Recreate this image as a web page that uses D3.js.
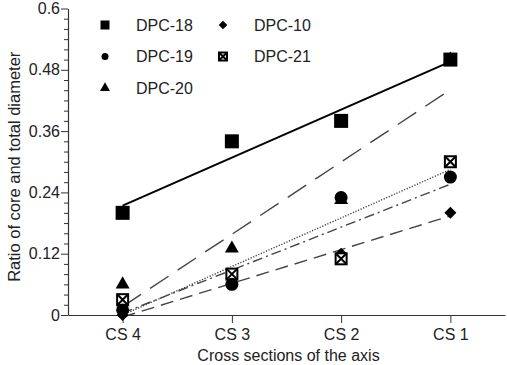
<!DOCTYPE html>
<html>
<head>
<meta charset="utf-8">
<script src="https://cdn.jsdelivr.net/npm/d3@7"></script>
<style>
  body { margin: 0; background: #fff; }
  svg { display: block; font-family: "Liberation Sans", Arial, sans-serif; }
</style>
</head>
<body>
<svg id="chart" width="507" height="365"></svg>
<script>
const categories = ['CS 4', 'CS 3', 'CS 2', 'CS 1'];
const yTicks = [0, 0.12, 0.24, 0.36, 0.48, 0.6];

const dpc18 = [0.2, 0.34, 0.38, 0.5];
const dpc19 = [0.01, 0.06, 0.23, 0.27];
const dpc20 = [0.06, 0.13, 0.225, 0.5];
const dpc10 = [0.0, 0.06, 0.12, 0.2];
const dpc21 = [0.03, 0.08, 0.11, 0.3];

const seriesNames = ['DPC-18', 'DPC-19', 'DPC-20', 'DPC-10', 'DPC-21'];

const width = 507;
const height = 365;
const margin = { top: 8.5, right: 2, bottom: 50, left: 68 };

const svg = d3.select('#chart');

const x = d3.scaleLinear()
  .domain([0.5, 4.5])
  .range([margin.left, width - margin.right]);
const y = d3.scaleLinear()
  .domain([0, 0.6])
  .range([height - margin.bottom, margin.top]);

const series = [
  { name: 'DPC-18', values: dpc18, shape: 'square', dash: null, width: 2, color: '#000' },
  { name: 'DPC-19', values: dpc19, shape: 'circle', dash: '1.2,1.6', width: 1.3, color: '#333' },
  { name: 'DPC-20', values: dpc20, shape: 'triangle', dash: '22,11', width: 1.4, color: '#444' },
  { name: 'DPC-10', values: dpc10, shape: 'diamond', dash: '13,7', width: 1.4, color: '#444' },
  { name: 'DPC-21', values: dpc21, shape: 'cross', dash: '10,4,2,4', width: 1.4, color: '#444' },
];

// least squares trend line over the four sections
function trend(values) {
  const xs = values.map((d, i) => i + 1);
  const mx = d3.mean(xs);
  const my = d3.mean(values);
  const slope = d3.sum(xs, (v, i) => (v - mx) * (values[i] - my)) / d3.sum(xs, v => (v - mx) ** 2);
  return [[1, my + slope * (1 - mx)], [4, my + slope * (4 - mx)]];
}

// axes
const yAxis = d3.axisLeft(y)
  .tickValues(yTicks)
  .tickFormat(d => (d === 0 ? '0' : d3.format('~g')(d)))
  .tickSize(7)
  .tickPadding(1);
const yMinor = d3.axisLeft(y)
  .tickValues(d3.range(0, 0.601, 0.02).filter(v => !yTicks.some(t => Math.abs(t - v) < 1e-6)))
  .tickFormat('')
  .tickSize(4)
  .tickSizeOuter(0);

svg.append('g')
  .attr('transform', `translate(${margin.left},0)`)
  .call(yMinor)
  .call(g => g.select('.domain').remove())
  .call(g => g.selectAll('line').attr('stroke', '#333'));

svg.append('g')
  .attr('transform', `translate(${margin.left},0)`)
  .call(yAxis.tickSizeOuter(0))
  .call(g => g.select('.domain').attr('stroke', '#333').attr('stroke-width', 1.2))
  .call(g => g.selectAll('line').attr('stroke', '#333'))
  .call(g => g.selectAll('text').attr('font-size', 16).attr('fill', '#222').attr('font-family', null));

const xAxis = d3.axisBottom(x)
  .tickValues([1, 2, 3, 4])
  .tickFormat((d, i) => categories[i])
  .tickSize(8)
  .tickSizeOuter(0)
  .tickPadding(6);

svg.append('g')
  .attr('transform', `translate(0,${y(0)})`)
  .call(xAxis)
  .call(g => g.select('.domain').attr('stroke', '#333').attr('stroke-width', 1.2))
  .call(g => g.selectAll('line').attr('stroke', '#333'))
  .call(g => g.selectAll('text').attr('font-size', 16).attr('fill', '#222').attr('font-family', null));

svg.append('text')
  .attr('x', (margin.left + width - margin.right) / 2 + 2)
  .attr('y', 361)
  .attr('text-anchor', 'middle')
  .attr('font-size', 16)
  .attr('fill', '#222')
  .text('Cross sections of the axis');

svg.append('text')
  .attr('transform', `translate(20,${(y(0) + y(0.6)) / 2 + 5}) rotate(-90)`)
  .attr('text-anchor', 'middle')
  .attr('font-size', 16.5)
  .attr('fill', '#222')
  .text('Ratio of core and total diameter');

// trend lines
const line = d3.line().x(d => x(d[0])).y(d => y(d[1]));
svg.append('g')
  .selectAll('path')
  .data(series)
  .join('path')
  .attr('d', d => line(trend(d.values)))
  .attr('fill', 'none')
  .attr('stroke', d => d.color)
  .attr('stroke-width', d => d.width)
  .attr('stroke-dasharray', d => d.dash);

// markers
function drawMarker(g, shape, s) {
  if (shape === 'square') {
    g.append('rect').attr('x', -s / 2).attr('y', -s / 2).attr('width', s).attr('height', s).attr('fill', '#000');
  } else if (shape === 'circle') {
    g.append('circle').attr('r', s / 2).attr('fill', '#000');
  } else if (shape === 'triangle') {
    g.append('path').attr('d', d3.symbol(d3.symbolTriangle, (s * s) * 0.43)()).attr('fill', '#000');
  } else if (shape === 'diamond') {
    g.append('path').attr('d', d3.symbol(d3.symbolDiamond2, (s / 1.2525) ** 2)()).attr('fill', '#000');
  } else if (shape === 'cross') {
    const h = s / 2 - 1;
    g.append('rect').attr('x', -h).attr('y', -h).attr('width', 2 * h).attr('height', 2 * h)
      .attr('fill', '#fff').attr('stroke', '#000').attr('stroke-width', 2);
    g.append('path').attr('d', `M${-h},${-h}L${h},${h}M${h},${-h}L${-h},${h}`)
      .attr('stroke', '#000').attr('stroke-width', 2);
  }
}

const markerSize = { square: 14, circle: 13, triangle: 14, diamond: 12, cross: 13 };
const drawOrder = ['DPC-20', 'DPC-10', 'DPC-21', 'DPC-19', 'DPC-18'];

drawOrder.forEach((name) => {
  const s = series.find(d => d.name === name);
  s.values.forEach((v, i) => {
    const g = svg.append('g').attr('transform', `translate(${x(i + 1)},${y(v)})`);
    drawMarker(g, s.shape, markerSize[s.shape]);
  });
});

// legend, filled column by column, three rows
const legendSize = { square: 9, circle: 7, triangle: 10, diamond: 8.5, cross: 10 };
const legend = svg.append('g');
seriesNames.forEach((name, i) => {
  const s = series.find(d => d.name === name);
  const col = Math.floor(i / 3);
  const row = i % 3;
  const g = legend.append('g').attr('transform', `translate(${105 + col * 118},${25 + row * 31.5})`);
  drawMarker(g, s.shape, legendSize[s.shape]);
  g.append('text')
    .attr('x', 31)
    .attr('y', 5.5)
    .attr('font-size', 16)
    .attr('fill', '#222')
    .text(name);
});
</script>
</body>
</html>
